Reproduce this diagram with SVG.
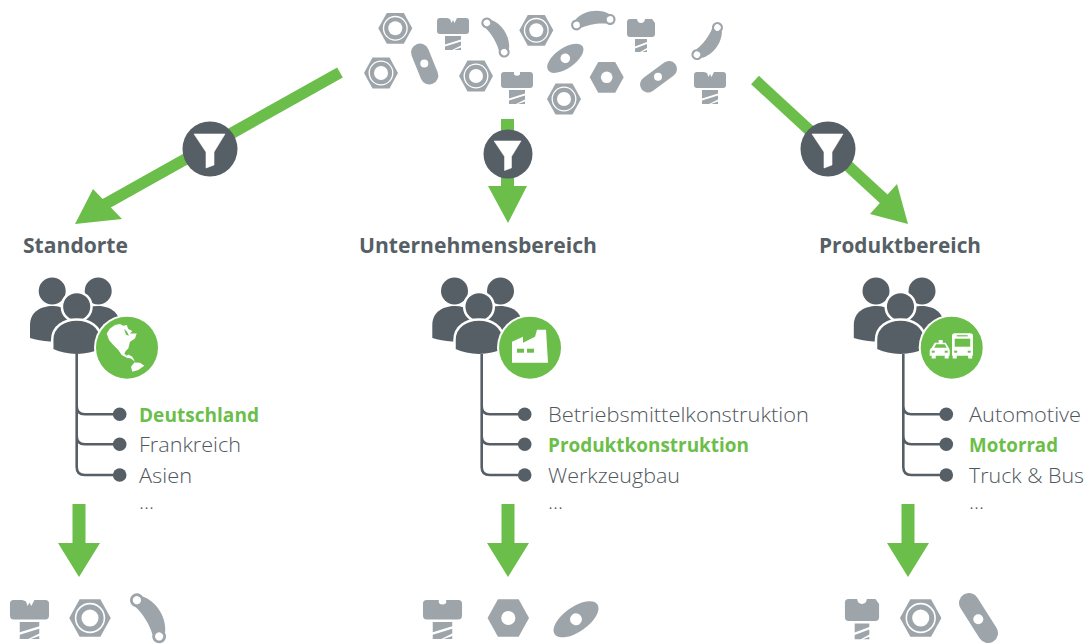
<svg xmlns="http://www.w3.org/2000/svg" width="1089" height="644" viewBox="0 0 1089 644">
<style>
.g{fill:#9ea5aa}
.w{fill:#fff}
.d{fill:#565f66}
.a{fill:#6cbe4a}
.as{stroke:#6cbe4a;fill:none}
.tree{stroke:#565f66;stroke-width:2.6;fill:none}
text{font-family:"Open Sans","Noto Sans","Liberation Sans",sans-serif;font-size:19.5px;font-weight:300;fill:#4f575c}
.h{font-weight:700;font-size:21px;fill:#565f66}
.b{font-weight:700;fill:#6cbe4a}
</style>
<defs>
<g id="nutR"><polygon class="g" points="-17,0 -8.500,-15.400 8.500,-15.400 17,0 8.500,15.400 -8.500,15.400"/><circle r="11.800" fill="none" stroke="#fff" stroke-width="1.300"/><circle r="7" class="w"/></g>
<g id="nutP"><polygon class="g" points="-17,0 -8.500,-15.400 8.500,-15.400 17,0 8.500,15.400 -8.500,15.400"/><circle r="5.800" class="w"/></g>
<g id="thread16" class="g"><polygon points="-8,18 8,18 8,21.500 -8,26.500"/><polygon points="-8,28.500 8,23.500 8,27.500 -1,32 -8,32"/><polygon points="1,32 8,32 8,29.500"/></g>
<g id="scV" class="g"><path d="M-16,3Q-16,0 -13,0H-6L-3,1 -1.500,5 0,2 1.500,5 4,0H13Q16,0 16,3V13Q16,16 13,16H-13Q-16,16 -16,13Z"/><use href="#thread16"/></g>
<g id="scC" class="g"><path d="M-16,3Q-16,0 -13,0H-3V2.500Q0,5 3,2.500V0H13Q16,0 16,3V13Q16,16 13,16H-13Q-16,16 -16,13Z"/><use href="#thread16"/></g>
<g id="scB" class="g"><path d="M-14,3Q-14,0 -11,0H-4Q-3.500,4 0,4 3.500,4 4,0H11L14,4V15Q14,18 11,18H-11Q-14,18 -14,15Z"/><polygon points="-6,20 6,20 6,23 -6,27.500"/><polygon points="-6,29.500 6,25 6,29 -1,33 -6,33"/><polygon points="1,33 6,33 6,31"/></g>
<g id="link"><path class="g" d="M-17,-5.500C-8,-13 8,-13 17,-5.500A5.500 5.500 0 1 1 13,3.800C6,1.500 -6,1.500 -13,3.800A5.500 5.500 0 1 1 -17,-5.500Z"/><circle cx="-17" r="3.300" class="w"/><circle cx="17" r="3.300" class="w"/></g>
<g id="ell"><ellipse rx="21" ry="10" class="g"/><circle r="4.800" class="w"/></g>
<path id="fun" class="w" stroke="#fff" stroke-width=".6" stroke-linejoin="round" d="M-16,-15H15L4,3V16L-4,19V3Z"/>
<g id="ppl" class="d">
<circle cx="-24.500" cy="291" r="13.500"/><circle cx="21.500" cy="291" r="13.500"/>
<path d="M-46.700,338V325C-46.700,312 -36,306 -24,306 -12,306 -4,312 -4,325V342C-20,342 -35,342 -46.700,338Z"/>
<path d="M43,338V325C43,312 33,306 21,306 9,306 1,312 1,325V342C16,342 32,342 43,338Z"/>
<circle cy="306.700" r="14.800" stroke="#fff" stroke-width="2.500"/>
<path d="M-24.500,350V340C-24.500,326 -12,319.500 0,319.500 12,319.500 24.500,326 24.500,340V350C10,357 -10,357 -24.500,350Z" stroke="#fff" stroke-width="2.500"/>
</g>
<g id="tree" class="d">
<path class="tree" d="M0,354V406Q0,414.300 8,414.300H43M0,436Q0,444.300 8,444.300H43M0,406V467Q0,475 8,475H43"/>
<circle cx="43" cy="414.300" r="6.800"/><circle cx="43" cy="444.300" r="6.800"/><circle cx="43" cy="475" r="6.800"/>
</g>
</defs>

<g id="connectors">
<line class="as" stroke-width="11.500" x1="340" y1="72.500" x2="100" y2="207"/>
<polygon class="a" points="75,224 93,189 122,219"/>
<rect class="a" x="501" y="119" width="13" height="68"/>
<polygon class="a" points="488,186 527,186 508,223"/>
<line class="as" stroke-width="11.500" x1="755" y1="80" x2="885" y2="200"/>
<polygon class="a" points="908,224 897,184 870,214"/>
<g id="downArrows" class="a">
<path d="M72.500,504H85.500V543H100L79,577 58,543H72.500Z"/>
<path d="M501.500,504H514.500V543H529L508,577 487,543H501.500Z"/>
<path d="M901.500,504H914.500V543H929L908,577 887,543H901.500Z"/>
</g>
</g>

<g id="parts-pile">
<use href="#nutR" x="395.300" y="28.300"/>
<use href="#nutR" x="381" y="73"/>
<use href="#nutR" x="476" y="76"/>
<use href="#nutR" x="536.300" y="30.300"/>
<use href="#nutR" x="564" y="99"/>
<use href="#nutP" x="606.700" y="77.300"/>
<use href="#scV" x="453" y="18"/>
<use href="#scC" x="517" y="72"/>
<use href="#scB" x="641" y="19"/>
<use href="#scV" x="710" y="72"/>
<use href="#link" transform="translate(495.500,37.500) rotate(59.300)"/>
<use href="#link" transform="translate(593.300,22.200) rotate(-9.300)"/>
<use href="#link" transform="translate(707.200,41.100) rotate(127.200)"/>
<line x1="420" y1="52.500" x2="429.300" y2="75.500" stroke="#9ea5aa" stroke-width="18" stroke-linecap="round"/><circle cx="424.300" cy="63.500" r="4" class="w"/>
<line x1="648" y1="84.500" x2="669" y2="69" stroke="#9ea5aa" stroke-width="16" stroke-linecap="round"/><circle cx="658" cy="76.700" r="4" class="w"/>
<use href="#ell" transform="translate(565.300,58.300) rotate(-35)"/>
</g>

<g id="filter-standorte"><circle cx="210" cy="149" r="27.500" class="d"/><use href="#fun" x="210" y="149"/></g>
<g id="filter-unternehmen"><circle cx="508" cy="154" r="24.500" class="d"/><use href="#fun" transform="translate(508,154) scale(.87)"/></g>
<g id="filter-produkt"><circle cx="828" cy="149" r="27.500" class="d"/><use href="#fun" x="828" y="149"/></g>

<g id="node-standorte">
<text class="h" x="23" y="253" textLength="105" lengthAdjust="spacingAndGlyphs">Standorte</text>
<use href="#ppl" x="76.700"/>
<use href="#tree" x="76.700"/>
<circle cx="127" cy="347.700" r="33" class="w"/><circle cx="127" cy="347.700" r="31" class="a"/>
<g transform="translate(127,347.700)" class="w"><path d="M-20.300,-14.300-17,-19.300-12,-22.700-7,-23.700-3.700,-22-.3,-22.700 1.300,-18.700 5.300,-16.700 3,-14.300 9.700,-14.300 8,-9.300 3,-6 1.300,.7-1.300,3.300-2.700,5.700-.3,8 1.300,6.700 5.300,9 8,14 4,10.700-.3,10-5.300,7.300-8.700,2.300-13.700,-2.700-18,-7.700Z"/><path d="M4,19 7.300,14.700 13,15 17.300,18 11.300,22.300 5.300,24Z"/><path class="a" d="M-3,-19-1,-13 2,-12 0,-16Z"/></g>
<text class="b" x="139" y="422" textLength="120" lengthAdjust="spacingAndGlyphs">Deutschland</text>
<text x="139" y="452" textLength="102" lengthAdjust="spacingAndGlyphs">Frankreich</text>
<text x="139" y="483" textLength="53" lengthAdjust="spacingAndGlyphs">Asien</text>
<text x="139" y="509" textLength="15" lengthAdjust="spacingAndGlyphs">...</text>
</g>

<g id="node-unternehmensbereich">
<text class="h" x="359" y="253" textLength="238" lengthAdjust="spacingAndGlyphs">Unternehmensbereich</text>
<use href="#ppl" x="479"/>
<use href="#tree" x="481.700"/>
<circle cx="530" cy="347.700" r="33" class="w"/><circle cx="530" cy="347.700" r="31" class="a"/>
<g transform="translate(530,347.700)"><path class="w" d="M-18,15V-6L-7,-11V-5L5,-11 7,-18H16L18,15Z"/><rect class="a" x="-13" y="1" width="7" height="4"/><rect class="a" x="-3" y="1" width="7" height="4"/></g>
<text x="548" y="422" textLength="261" lengthAdjust="spacingAndGlyphs">Betriebsmittelkonstruktion</text>
<text class="b" x="548" y="452" textLength="201" lengthAdjust="spacingAndGlyphs">Produktkonstruktion</text>
<text x="548" y="483" textLength="132" lengthAdjust="spacingAndGlyphs">Werkzeugbau</text>
<text x="548" y="509" textLength="15" lengthAdjust="spacingAndGlyphs">...</text>
</g>

<g id="node-produktbereich">
<text class="h" x="819" y="253" textLength="162" lengthAdjust="spacingAndGlyphs">Produktbereich</text>
<use href="#ppl" x="900.500"/>
<use href="#tree" x="903.300"/>
<circle cx="951.700" cy="347.700" r="33" class="w"/><circle cx="951.700" cy="347.700" r="31" class="a"/>
<g transform="translate(951.700,347.700)">
<path class="w" d="M.3,-12Q.3,-14.500 3,-14.500H18.500Q21.300,-14.500 21.300,-12V7Q21.300,8 20.500,8V10.700H16.500V8H5V10.700H1V8Q.3,8 .3,7Z"/>
<rect class="a" x="3" y="-9" width="15.500" height="8"/><rect class="a" x="5" y="-12.500" width="11" height="1.200"/><rect class="a" x="2.500" y="3" width="3" height="2"/><rect class="a" x="16" y="3" width="3" height="2"/>
<path class="w" d="M-22,3Q-22,1-20,0L-17,-5H-13V-7.700H-9V-5H-6L-3,0Q-2,1-2,3V8H-3V10.700H-7V8H-16V10.700H-20V8H-22Z"/>
<path class="a" d="M-15.500,-3.500H-7L-5,0H-17.500Z"/><rect class="a" x="-20" y="3" width="3" height="2"/><rect class="a" x="-7" y="3" width="3" height="2"/>
</g>
<text x="969" y="422" textLength="112" lengthAdjust="spacingAndGlyphs">Automotive</text>
<text class="b" x="969" y="452" textLength="89" lengthAdjust="spacingAndGlyphs">Motorrad</text>
<text x="969" y="483" textLength="115" lengthAdjust="spacingAndGlyphs">Truck &amp; Bus</text>
<text x="969" y="509" textLength="15" lengthAdjust="spacingAndGlyphs">...</text>
</g>

<g id="result-standorte">
<use href="#scV" transform="translate(29.500,600) scale(1.220)"/>
<use href="#nutR" transform="translate(90,618) scale(1.220)"/>
<use href="#link" transform="translate(148,618.300) rotate(58.400) scale(1.250)"/>
</g>
<g id="result-unternehmen">
<use href="#scC" transform="translate(442.500,600) scale(1.220)"/>
<use href="#nutP" transform="translate(508.300,618) scale(1.220)"/>
<use href="#ell" transform="translate(576,619.300) rotate(-35) scale(1.240)"/>
</g>
<g id="result-produkt">
<use href="#scB" transform="translate(862,599) scale(1.220)"/>
<use href="#nutR" transform="translate(920.700,618) scale(1.220)"/>
<line x1="969" y1="603" x2="988" y2="633" stroke="#9ea5aa" stroke-width="20" stroke-linecap="round"/><circle cx="978.300" cy="619.300" r="5" class="w"/>
</g>
</svg>
